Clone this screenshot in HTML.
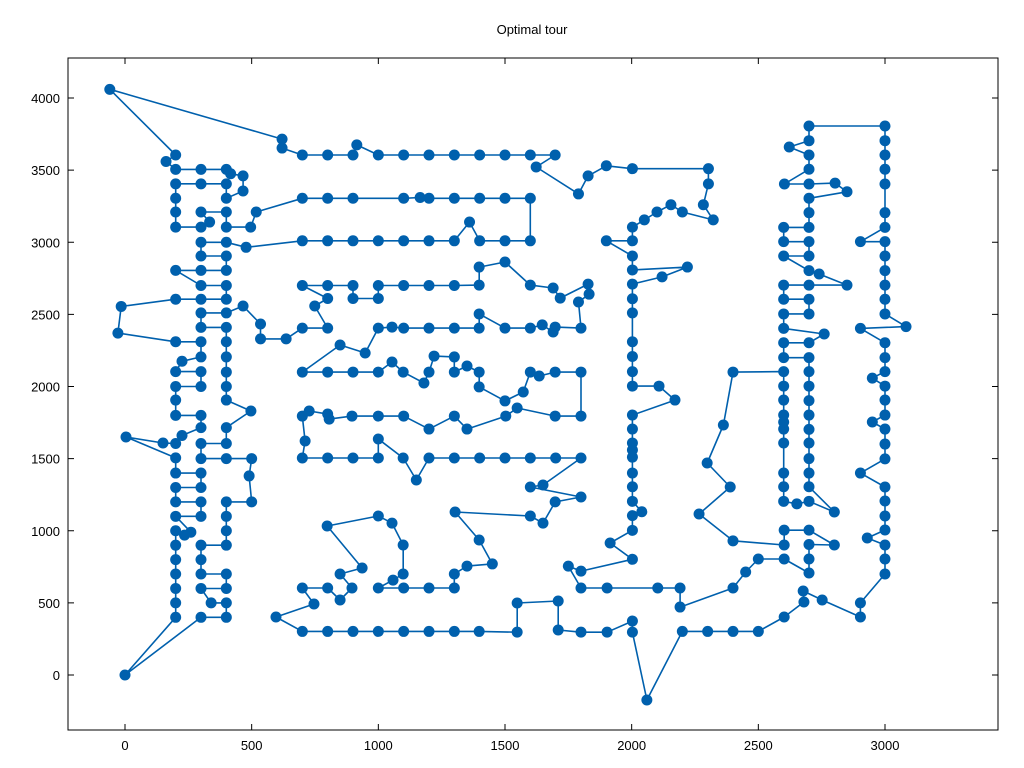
<!DOCTYPE html>
<html><head><meta charset="utf-8"><style>
html,body{margin:0;padding:0;background:#fff}
svg{display:block}
text{font-family:"Liberation Sans","DejaVu Sans",sans-serif;font-size:13px;fill:#000}
</style></head><body>
<svg id="chart" width="1024" height="768" viewBox="0 0 1024 768">
<rect x="0" y="0" width="1024" height="768" fill="#fff"/>
<text x="532" y="34" text-anchor="middle">Optimal tour</text>
<g id="axes"></g>
<g id="tour"></g>
</svg>
<script>
const xTicks = [0, 500, 1000, 1500, 2000, 2500, 3000];
const yTicks = [0, 500, 1000, 1500, 2000, 2500, 3000, 3500, 4000];
const tourPoints = [
[0,0],[300,400],[400,400],[400,500],[340,500],[300,600],[400,600],[400,700],[300,700],[300,800],[300,900],[400,900],[400,1000],[400,1100],[400,1200],[500,1200],[490,1380],[500,1500],[400,1500],[300,1500],[300,1605],[400,1605],[400,1715],[497,1830],[400,1906],[400,2000],[400,2100],[400,2205],[400,2310],[400,2410],[300,2410],[300,2510],[400,2510],[466,2558],[535,2433],[535,2330],[636,2330],[700,2405],[800,2405],[749,2558],[800,2610],[700,2700],[800,2700],[900,2700],[900,2610],[1000,2610],[1000,2700],[1100,2700],[1200,2700],[1300,2700],[1398,2703],[1398,2828],[1500,2863],[1600,2703],[1690,2683],[1718,2613],[1828,2710],[1832,2640],[1790,2586],[1800,2405],[1698,2412],[1690,2378],[1647,2427],[1600,2405],[1500,2405],[1398,2503],[1398,2405],[1300,2405],[1200,2405],[1100,2405],[1054,2412],[1000,2405],[948,2232],[849,2288],[700,2100],[800,2100],[900,2100],[1000,2100],[1054,2170],[1098,2100],[1180,2024],[1200,2100],[1220,2211],[1300,2205],[1300,2100],[1350,2142],[1398,2100],[1398,1997],[1500,1900],[1572,1962],[1600,2100],[1635,2073],[1698,2100],[1800,2100],[1800,1795],[1698,1795],[1548,1851],[1503,1795],[1350,1705],[1300,1795],[1200,1705],[1100,1795],[1000,1795],[896,1795],[806,1774],[800,1809],[727,1830],[700,1795],[711,1622],[700,1504],[800,1504],[900,1504],[1000,1504],[1000,1636],[1098,1504],[1150,1352],[1200,1504],[1300,1504],[1400,1504],[1500,1504],[1600,1504],[1700,1504],[1800,1504],[1650,1317],[1600,1303],[1800,1234],[1698,1200],[1650,1053],[1600,1102],[1303,1130],[1398,936],[1450,770],[1350,755],[1300,700],[1300,603],[1200,603],[1100,603],[1000,603],[1058,658],[1098,700],[1098,901],[1054,1053],[1000,1102],[798,1033],[936,742],[849,700],[896,603],[849,520],[800,603],[700,603],[746,492],[596,402],[700,302],[800,302],[900,302],[1000,302],[1100,302],[1200,302],[1300,302],[1398,302],[1548,297],[1548,499],[1710,513],[1710,312],[1800,297],[1903,297],[2003,374],[2003,297],[2060,-173],[2200,302],[2300,302],[2400,302],[2500,302],[2602,402],[2680,506],[2677,582],[2752,520],[2903,402],[2903,500],[3000,700],[3000,804],[3000,901],[2930,950],[3000,1005],[3000,1102],[3000,1206],[3000,1303],[2903,1400],[3000,1498],[3000,1601],[3000,1705],[2950,1754],[3000,1802],[3000,1906],[3000,2003],[2950,2058],[3000,2103],[3000,2200],[3000,2303],[2903,2403],[3083,2415],[3000,2503],[3000,2605],[3000,2703],[3000,2803],[3000,2905],[3000,3004],[2903,3004],[3000,3103],[3000,3205],[3000,3404],[3000,3506],[3000,3605],[3000,3704],[3000,3806],[2700,3806],[2700,3704],[2622,3660],[2700,3605],[2700,3506],[2603,3404],[2700,3404],[2803,3410],[2850,3350],[2700,3305],[2700,3205],[2700,3103],[2600,3103],[2600,3004],[2700,3004],[2700,2905],[2600,2905],[2700,2803],[2740,2780],[2850,2703],[2700,2703],[2600,2703],[2600,2605],[2700,2605],[2700,2503],[2600,2503],[2600,2403],[2760,2364],[2700,2303],[2600,2303],[2600,2200],[2700,2200],[2700,2103],[2700,2003],[2700,1902],[2700,1802],[2700,1703],[2700,1608],[2700,1500],[2700,1400],[2700,1305],[2800,1130],[2700,1204],[2652,1186],[2600,1204],[2600,1305],[2600,1400],[2600,1608],[2600,1705],[2600,1753],[2600,1802],[2600,1906],[2600,2003],[2600,2103],[2400,2100],[2362,1733],[2298,1470],[2389,1303],[2266,1116],[2400,930],[2602,901],[2602,1004],[2700,1004],[2800,901],[2700,905],[2700,804],[2700,707],[2602,804],[2500,804],[2450,714],[2400,603],[2191,471],[2191,603],[2103,603],[1903,603],[1800,603],[1750,755],[1800,720],[2003,802],[1915,915],[2003,1003],[2003,1105],[2040,1132],[2003,1204],[2003,1305],[2003,1400],[2003,1510],[2003,1560],[2003,1608],[2003,1705],[2003,1802],[2171,1906],[2108,2003],[2003,2003],[2003,2103],[2003,2208],[2003,2310],[2003,2510],[2003,2608],[2003,2710],[2120,2760],[2220,2828],[2003,2808],[2003,2905],[1900,3010],[2003,3010],[2003,3105],[2050,3155],[2100,3210],[2155,3260],[2200,3210],[2322,3155],[2283,3260],[2303,3405],[2303,3510],[2003,3510],[1900,3530],[1828,3460],[1790,3335],[1623,3522],[1698,3605],[1600,3605],[1500,3605],[1400,3605],[1300,3605],[1200,3605],[1100,3605],[1000,3605],[915,3675],[900,3605],[800,3605],[700,3605],[620,3653],[620,3715],[-60,4060],[200,3605],[162,3560],[200,3505],[300,3505],[400,3505],[417,3475],[466,3460],[466,3355],[400,3305],[400,3405],[300,3405],[200,3405],[200,3305],[200,3210],[200,3105],[300,3105],[334,3140],[300,3210],[400,3210],[400,3105],[496,3105],[518,3210],[700,3305],[800,3305],[900,3305],[1100,3305],[1165,3310],[1200,3305],[1300,3305],[1400,3305],[1500,3305],[1600,3305],[1600,3010],[1500,3010],[1400,3010],[1360,3140],[1300,3010],[1200,3010],[1100,3010],[1000,3010],[900,3010],[800,3010],[700,3010],[478,2965],[400,3000],[300,3000],[300,2905],[400,2905],[400,2805],[300,2805],[200,2805],[300,2700],[400,2700],[400,2605],[300,2605],[200,2605],[-15,2555],[-28,2370],[200,2310],[300,2310],[300,2205],[225,2175],[200,2103],[300,2103],[300,2000],[200,2000],[200,1906],[200,1800],[300,1800],[300,1715],[225,1660],[200,1605],[150,1608],[4,1650],[200,1505],[200,1400],[300,1400],[300,1300],[200,1300],[200,1200],[300,1200],[300,1100],[200,1100],[260,990],[235,970],[200,1000],[200,900],[200,800],[200,700],[200,600],[200,500],[200,400]
];

const NS = "http://www.w3.org/2000/svg";
const plot = {left:68, right:998, top:58, bottom:730};
function xScale(v){ return 125 + v * (760/3000); }
function yScale(v){ return 675 - v * (577/4000); }

const axes = document.getElementById('axes');
const frame = document.createElementNS(NS,'rect');
frame.setAttribute('x',plot.left); frame.setAttribute('y',plot.top);
frame.setAttribute('width',plot.right-plot.left); frame.setAttribute('height',plot.bottom-plot.top);
frame.setAttribute('fill','none'); frame.setAttribute('stroke','#000'); frame.setAttribute('stroke-width','1');


axes.appendChild(frame);

function line(x1,y1,x2,y2){
  const l=document.createElementNS(NS,'line');
  l.setAttribute('x1',x1);l.setAttribute('y1',y1);l.setAttribute('x2',x2);l.setAttribute('y2',y2);
  l.setAttribute('stroke','#000');l.setAttribute('stroke-width','1');
  return l;
}
xTicks.forEach(function(t){
  const x=xScale(t);
  const a=line(x,plot.bottom,x,plot.bottom-6);
  
  
  axes.appendChild(a);
  const b=line(x,plot.top,x,plot.top+6);
  
  
  axes.appendChild(b);
  const tx=document.createElementNS(NS,'text');
  tx.setAttribute('x',x);tx.setAttribute('y',plot.bottom+20);tx.setAttribute('text-anchor','middle');
  tx.textContent=String(t);
  
  
  axes.appendChild(tx);
});
yTicks.forEach(function(t){
  const y=yScale(t);
  const a=line(plot.left,y,plot.left+6,y);
  
  
  axes.appendChild(a);
  const b=line(plot.right,y,plot.right-6,y);
  
  
  axes.appendChild(b);
  const tx=document.createElementNS(NS,'text');
  tx.setAttribute('x',plot.left-8);tx.setAttribute('y',y+5);tx.setAttribute('text-anchor','end');
  tx.textContent=String(t);
  
  
  axes.appendChild(tx);
});

const g=document.getElementById('tour');
const pts=tourPoints.concat([tourPoints[0]]).map(function(p){return xScale(p[0]).toFixed(1)+','+yScale(p[1]).toFixed(1);}).join(' ');
const pl=document.createElementNS(NS,'polyline');
pl.setAttribute('points',pts);pl.setAttribute('fill','none');pl.setAttribute('stroke','#0060ad');pl.setAttribute('stroke-width','1.6');pl.setAttribute('stroke-linejoin','round');


g.appendChild(pl);
tourPoints.forEach(function(p){
  const c=document.createElementNS(NS,'circle');
  c.setAttribute('cx',xScale(p[0]));c.setAttribute('cy',yScale(p[1]));c.setAttribute('r','5.5');c.setAttribute('fill','#0060ad');
  
  
  g.appendChild(c);
});
</script>
</body></html>
